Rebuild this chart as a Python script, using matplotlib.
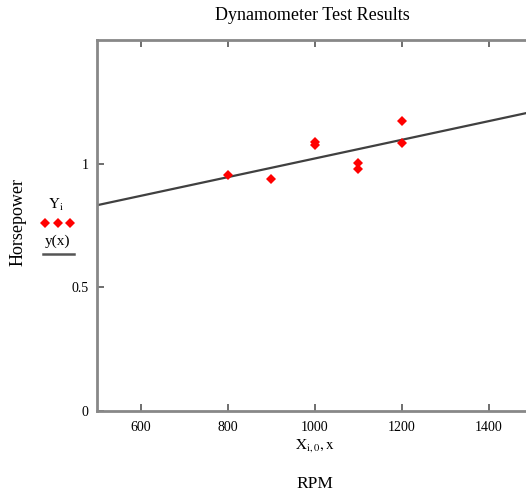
import numpy as np
import matplotlib
matplotlib.use("Agg")
import matplotlib.pyplot as plt

plt.rcParams['font.family'] = ['Liberation Serif', 'DejaVu Serif']
plt.rcParams['mathtext.fontset'] = 'stix'

rpm = [800, 900, 1000, 1000, 1100, 1100, 1200, 1200]
hp = [0.955, 0.938, 1.077, 1.087, 1.003, 0.977, 1.171, 1.082]

# fitted line y(x) = a + b*x
fit_a = 0.643
fit_b = 0.000378
x_range = [500, 1500]

x_ticks = [600, 800, 1000, 1200, 1400]
y_ticks = [0, 0.5, 1]
y_ticklabels = ['0', '0.5', '1']

fig = plt.figure(figsize=(5.26, 4.94), dpi=100)
ax = fig.add_axes([0.1844, 0.168, 0.828, 0.751])

xs = np.array(x_range, dtype=float)
ax.plot(xs, fit_a + fit_b * xs, color='#404040', lw=1.6, zorder=2)
ax.plot(rpm, hp, linestyle='none', marker='D', markersize=5.2, color='#ff0000',
        markeredgewidth=0, zorder=3)

ax.set_xlim(*x_range)
ax.set_ylim(0, 1.5)
ax.set_xticks(x_ticks)
ax.set_yticks(y_ticks)
ax.set_yticklabels(y_ticklabels)
ax.tick_params(direction='in', length=5, width=1.2, color='#555555',
               top=True, right=True, labelsize=10, pad=7)
ax.tick_params(axis='y', pad=6)
for s in ax.spines.values():
    s.set_color('#888888')
    s.set_linewidth(2)

fig.text(0.593, 0.969, 'Dynamometer Test Results', ha='center', va='center', fontsize=13)
fig.text(0.599, 0.099, r'$\mathrm{X}_{\mathrm{i,0}}\mathrm{,x}$', ha='center', va='center', fontsize=11)
fig.text(0.599, 0.020, 'RPM', ha='center', va='center', fontsize=12.5)
fig.text(0.034, 0.550, 'Horsepower', ha='center', va='center', rotation=90, fontsize=13)

# legend stack at left
fig.text(0.107, 0.585, r'$\mathrm{Y}_{\mathrm{i}}$', ha='center', va='center', fontsize=11)
fig.lines.append(matplotlib.lines.Line2D([0.086, 0.110, 0.134], [0.549, 0.549, 0.549],
                                         transform=fig.transFigure,
                                         linestyle='none', marker='D', markersize=5.2,
                                         color='#ff0000', markeredgewidth=0))
fig.text(0.110, 0.512, 'y(x)', ha='center', va='center', fontsize=11)
fig.lines.append(matplotlib.lines.Line2D([0.082, 0.140], [0.486, 0.486], transform=fig.transFigure,
                                         color='#555555', lw=1.8))

fig.savefig('out.png', dpi=100)
